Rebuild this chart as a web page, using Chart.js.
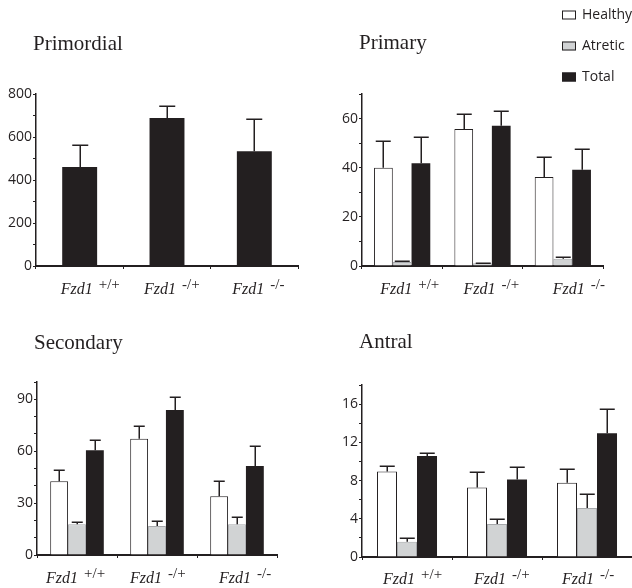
<!DOCTYPE html>
<html><head><meta charset="utf-8">
<script src="https://cdn.jsdelivr.net/npm/chart.js@4.4.1/dist/chart.umd.min.js"></script>
<style>
html,body{margin:0;padding:0;background:#fff;}
#wrap{position:relative;width:632px;height:588px;overflow:hidden;background:#fff;}
canvas{position:absolute;}
</style></head><body>
<div id="wrap">
<canvas id="c1" width="316" height="300" style="left:0px;top:0px"></canvas>
<canvas id="c2" width="316" height="300" style="left:316px;top:0px"></canvas>
<canvas id="c3" width="316" height="288" style="left:0px;top:300px"></canvas>
<canvas id="c4" width="316" height="288" style="left:316px;top:300px"></canvas>
</div>
<script>
// ---------- data ----------
const genotype = 'Fzd1';
const genotypeSup = ['+/+', '-/+', '-/-'];
const categories = ['Fzd1 +/+', 'Fzd1 -/+', 'Fzd1 -/-'];
const seriesNames = ['Healthy', 'Atretic', 'Total'];
const panelTitles = ['Primordial', 'Primary', 'Secondary', 'Antral'];

const primordialTotal    = [460, 688, 534];
const primordialTotalErr = [105, 54, 149];

const primaryHealthy    = [40.0, 55.8, 36.2];
const primaryHealthyErr = [10.8, 6.1, 8.0];
const primaryAtretic    = [1.6, 1.1, 2.9];
const primaryAtreticErr = [0.3, 0.3, 0.6];
const primaryTotal      = [41.8, 57.1, 39.2];
const primaryTotalErr   = [10.6, 5.8, 8.4];

const secondaryHealthy    = [42.6, 67.2, 33.9];
const secondaryHealthyErr = [6.4, 7.3, 8.7];
const secondaryAtretic    = [17.8, 16.7, 17.8];
const secondaryAtreticErr = [1.2, 2.7, 3.9];
const secondaryTotal      = [60.6, 83.8, 51.5];
const secondaryTotalErr   = [5.6, 7.5, 11.4];

const antralHealthy    = [8.95, 7.28, 7.77];
const antralHealthyErr = [0.59, 1.59, 1.49];
const antralAtretic    = [1.6, 3.45, 5.12];
const antralAtreticErr = [0.35, 0.52, 1.5];
const antralTotal      = [10.58, 8.11, 12.95];
const antralTotalErr   = [0.32, 1.32, 2.55];

const primordialYLabels = [0, 200, 400, 600, 800];
const primaryYLabels    = [0, 20, 40, 60];
const secondaryYLabels  = [0, 30, 60, 90];
const antralYLabels     = [0, 4, 8, 12, 16];

// ---------- style ----------
const INK = '#231f20';
const fillColors   = {Healthy: '#ffffff', Atretic: '#d1d3d4', Total: '#231f20'};
const borderColors = {Healthy: '#231f20', Atretic: '#a7a9ac', Total: '#231f20'};
const SANS = '"Open Sans", "Noto Sans", sans-serif';
const SERIF = '"Liberation Serif", "DejaVu Serif", serif';

function ds(name, data, errors) {
  return {
    label: name, data: data, errors: errors,
    backgroundColor: fillColors[name],
    borderColor: borderColors[name],
    borderWidth: name === 'Total' ? 0 : 1,
    borderSkipped: 'start'
  };
}

const panelPlugin = {
  id: 'panel',
  afterDatasetsDraw(chart, args, o) {
    const ctx = chart.ctx, ys = chart.scales.y;
    ctx.save();
    ctx.strokeStyle = INK; ctx.lineWidth = 1.5;
    chart.data.datasets.forEach((d, di) => {
      const meta = chart.getDatasetMeta(di);
      meta.data.forEach((bar, i) => {
        const top = Math.round(ys.getPixelForValue(d.data[i] + d.errors[i])) + 0.25;
        const cx = Math.round(bar.x) + 0.25;
        ctx.beginPath();
        ctx.moveTo(cx, bar.y); ctx.lineTo(cx, top);
        ctx.moveTo(cx - o.capW / 2, top); ctx.lineTo(cx + o.capW / 2, top);
        ctx.stroke();
      });
    });
    ctx.restore();
  },
  afterDraw(chart, args, o) {
    const ctx = chart.ctx, xs = chart.scales.x, area = chart.chartArea;
    ctx.save();
    ctx.fillStyle = INK;
    ctx.textBaseline = 'alphabetic';
    ctx.textAlign = 'left';
    // title
    ctx.font = '21px ' + SERIF;
    ctx.fillText(o.title, area.left - 3, o.titleBase);
    // category labels with superscripts
    chart.data.labels.forEach((lab, i) => {
      const x0 = xs.getPixelForValue(i) + o.labelShift[i];
      ctx.font = 'italic 16px ' + SERIF;
      ctx.fillText(genotype, x0, o.labelBase);
      const w = ctx.measureText(genotype + ' ').width + 2;
      ctx.font = '15px ' + SERIF;
      ctx.fillText(genotypeSup[i], x0 + w, o.labelBase - 5);
    });
    // legend
    if (o.legend) {
      const L = o.legend;
      chart.data.datasets.forEach((d, di) => {
        const cy = L.y + di * L.gap;
        ctx.fillStyle = d.backgroundColor;
        ctx.fillRect(L.x, cy - 4.5, 14, 9);
        ctx.strokeStyle = INK;
        ctx.lineWidth = 1;
        ctx.strokeRect(L.x + 0.5, cy - 4, 13, 8);
        ctx.fillStyle = INK;
        ctx.font = '14px ' + SANS;
        ctx.textBaseline = 'middle';
        ctx.fillText(d.label, L.x + 20, cy + 0.5);
      });
    }
    ctx.restore();
  }
};

function makeChart(id, cfg) {
  return new Chart(document.getElementById(id), {
    type: 'bar',
    data: { labels: categories, datasets: cfg.datasets },
    plugins: [panelPlugin],
    options: {
      responsive: false,
      animation: false,
      events: [],
      layout: { padding: cfg.pad },
      datasets: { bar: { categoryPercentage: cfg.catPct, barPercentage: cfg.barPct } },
      plugins: {
        legend: { display: false },
        tooltip: { enabled: false },
        panel: {
          title: cfg.title, titleBase: cfg.titleBase, capW: cfg.capW,
          labelShift: cfg.labelShift, labelBase: cfg.labelBase, legend: cfg.legend
        }
      },
      scales: {
        x: {
          offset: true,
          grid: { display: true, offset: true, drawOnChartArea: false, drawTicks: true, tickLength: 3, color: INK, lineWidth: 1 },
          border: { display: true, color: INK, width: 2 },
          ticks: { display: false },
          afterFit: s => { s.height = 3; }
        },
        y: {
          min: 0, max: cfg.yMax,
          grid: { display: true, drawOnChartArea: false, drawTicks: true, tickLength: 3, color: INK, lineWidth: 1 },
          border: { display: true, color: INK, width: 1.5 },
          ticks: {
            stepSize: cfg.yStep, autoSkip: false, padding: 1, color: INK,
            font: { family: SANS, size: 14 },
            callback: v => cfg.yLabels.includes(v) ? String(v) : ''
          },
          afterFit: s => { s.width = 36; }
        }
      }
    }
  });
}

makeChart('c1', {
  title: panelTitles[0], titleBase: 50,
  datasets: [ds('Total', primordialTotal, primordialTotalErr)],
  yMax: 800, yStep: 100, yLabels: primordialYLabels,
  pad: { left: 0, top: 94, right: 18, bottom: 31 },
  catPct: 1.0, barPct: 0.4, capW: 16,
  labelShift: [-19, -23, -22], labelBase: 294
});

makeChart('c2', {
  title: panelTitles[1], titleBase: 49,
  datasets: [ds('Healthy', primaryHealthy, primaryHealthyErr),
             ds('Atretic', primaryAtretic, primaryAtreticErr),
             ds('Total', primaryTotal, primaryTotalErr)],
  yMax: 70, yStep: 10, yLabels: primaryYLabels,
  pad: { left: 10, top: 94, right: 29, bottom: 31 },
  catPct: 0.7, barPct: 1.0, capW: 15,
  labelShift: [-22, -19, -10], labelBase: 294,
  legend: { x: 246, y: 15, gap: 31 }
});

makeChart('c3', {
  title: panelTitles[2], titleBase: 49,
  datasets: [ds('Healthy', secondaryHealthy, secondaryHealthyErr),
             ds('Atretic', secondaryAtretic, secondaryAtreticErr),
             ds('Total', secondaryTotal, secondaryTotalErr)],
  yMax: 100, yStep: 10, yLabels: secondaryYLabels,
  pad: { left: 1, top: 82, right: 39, bottom: 30 },
  catPct: 0.67, barPct: 1.0, capW: 11,
  labelShift: [-31, -27, -18], labelBase: 283
});

makeChart('c4', {
  title: panelTitles[3], titleBase: 48,
  datasets: [ds('Healthy', antralHealthy, antralHealthyErr),
             ds('Atretic', antralAtretic, antralAtreticErr),
             ds('Total', antralTotal, antralTotalErr)],
  yMax: 18, yStep: 2, yLabels: antralYLabels,
  pad: { left: 10, top: 85, right: 0, bottom: 28 },
  catPct: 0.667, barPct: 1.0, capW: 15,
  labelShift: [-24, -23, -25], labelBase: 284
});
</script>
</body></html>
